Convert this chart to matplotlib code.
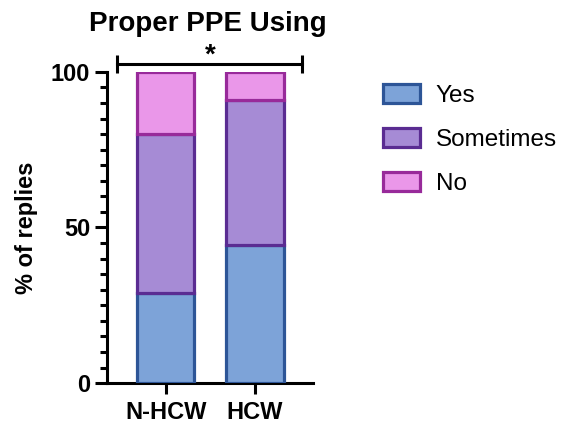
import matplotlib
matplotlib.use("Agg")
import matplotlib.pyplot as plt
from matplotlib.ticker import MultipleLocator
from matplotlib.patches import Patch

plt.rcParams['font.family'] = ['Liberation Sans', 'DejaVu Sans']

categories = ["N-HCW", "HCW"]
series_names = ["Yes", "Sometimes", "No"]
yes = [29, 44.5]
sometimes = [51, 46.5]
no = [20, 9]
values = [yes, sometimes, no]

fills = ["#7DA3D8", "#A68BD5", "#EA97E9"]
edges = ["#2D5597", "#5A2C92", "#982A9A"]

fig = plt.figure(figsize=(5.65, 4.3), dpi=100)
ax = fig.add_axes([0.189, 0.109, 0.365, 0.724])

x = list(range(len(categories)))
bottom = [0.0] * len(categories)
for vals, fc, ec in zip(values, fills, edges):
    ax.bar(x, vals, bottom=bottom, width=0.64, color=fc, edgecolor=ec, linewidth=2.3, zorder=3)
    bottom = [b + v for b, v in zip(bottom, vals)]

ax.set_xlim(-0.66, 1.65)
ax.set_ylim(0, 100)
ax.yaxis.set_major_locator(MultipleLocator(50))
ax.yaxis.set_minor_locator(MultipleLocator(5))
ax.set_xticks(x)
ax.set_xticklabels(categories, fontsize=17, fontweight='bold')
ax.tick_params(axis='y', which='major', labelsize=17, width=2.2, length=9, pad=3)
ax.tick_params(axis='y', which='minor', width=2.2, length=5)
ax.tick_params(axis='x', which='major', width=2.2, length=8, pad=5)
for t in ax.get_yticklabels():
    t.set_fontweight('bold')

for s in ['top', 'right']:
    ax.spines[s].set_visible(False)
for s in ['left', 'bottom']:
    ax.spines[s].set_linewidth(2.2)

ax.set_ylabel("% of replies", fontsize=17, fontweight='bold', labelpad=9)
fig.text(0.368, 0.945, "Proper PPE Using", fontsize=20, fontweight='bold', ha='center', va='center')

# significance bracket
yb = 102.5
ax.plot([-0.55, 1.53], [yb, yb], color='black', lw=2.2, clip_on=False, zorder=5)
ax.plot([-0.55, -0.55], [yb - 2.8, yb + 2.8], color='black', lw=2.2, clip_on=False, solid_capstyle='butt')
ax.plot([1.53, 1.53], [yb - 2.8, yb + 2.8], color='black', lw=2.2, clip_on=False, solid_capstyle='butt')
ax.text(0.5, yb - 1.5, "*", fontsize=20, fontweight='bold', ha='center', va='bottom')

handles = [Patch(facecolor=fc, edgecolor=ec, linewidth=2.3, label=n) for n, fc, ec in zip(series_names, fills, edges)]
fig.legend(handles=handles, loc='upper left', bbox_to_anchor=(0.678, 0.805), frameon=False,
           borderpad=0, borderaxespad=0,
           fontsize=17.5, handlelength=1.52, handleheight=0.84, handletextpad=0.65, labelspacing=0.86)

fig.savefig("out.png", dpi=100)
